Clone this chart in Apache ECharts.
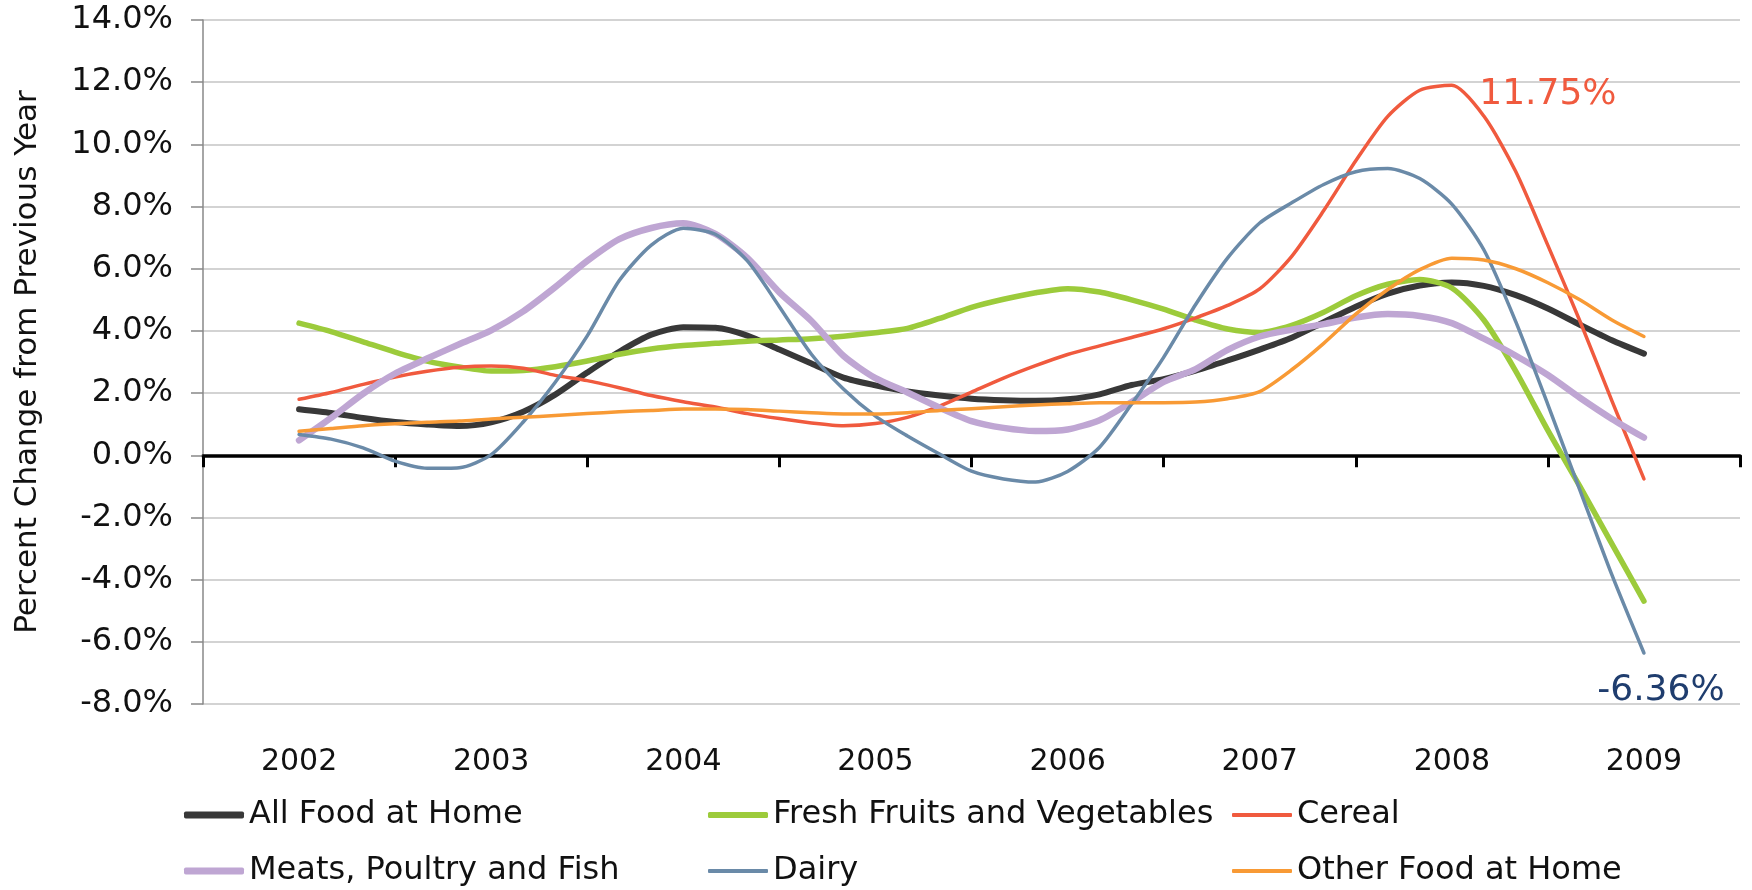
<!DOCTYPE html>
<html>
<head>
<meta charset="utf-8">
<title>Food at home price change</title>
<script src="https://cdn.jsdelivr.net/npm/echarts@6/dist/echarts.min.js"></script>
<style>
  html, body { margin: 0; padding: 0; background: #ffffff; }
  #chart { width: 1752px; height: 890px; }
</style>
</head>
<body>
<div id="chart"></div>
<script>
// x = months counted from July 2001 (6 = Jan 2002 ... 90 = Jan 2009)
var months = [6, 8, 10, 12, 14, 16, 18, 20, 22, 24, 26, 28, 30, 32, 34, 36, 38, 40, 42, 44, 46, 48,
              50, 52, 54, 56, 58, 60, 62, 64, 66, 68, 70, 72, 74, 76, 78, 80, 82, 84, 86, 88, 90];
var years = ['2002', '2003', '2004', '2005', '2006', '2007', '2008', '2009'];

var allFood = [1.48, 1.36, 1.20, 1.07, 0.99, 0.94, 1.06, 1.40, 1.95, 2.66, 3.33, 3.88, 4.12, 4.10, 3.85,
               3.40, 2.95, 2.50, 2.25, 2.05, 1.92, 1.82, 1.77, 1.75, 1.80, 1.96, 2.26, 2.45, 2.72, 3.05,
               3.40, 3.78, 4.28, 4.78, 5.20, 5.46, 5.56, 5.45, 5.15, 4.72, 4.20, 3.70, 3.27];
var freshFV = [4.25, 3.98, 3.65, 3.32, 3.03, 2.84, 2.71, 2.73, 2.85, 3.03, 3.25, 3.42, 3.53, 3.60, 3.67,
               3.71, 3.75, 3.83, 3.94, 4.08, 4.40, 4.76, 5.02, 5.23, 5.36, 5.25, 5.00, 4.70, 4.35, 4.06,
               3.95, 4.18, 4.60, 5.13, 5.50, 5.65, 5.38, 4.35, 2.70, 0.80, -1.00, -2.85, -4.69];
var cereal = [1.80, 2.02, 2.28, 2.52, 2.70, 2.83, 2.87, 2.80, 2.57, 2.40, 2.17, 1.92, 1.72, 1.55, 1.34,
              1.18, 1.04, 0.95, 1.02, 1.22, 1.58, 2.03, 2.48, 2.88, 3.24, 3.52, 3.79, 4.07, 4.42, 4.82,
              5.35, 6.40, 7.87, 9.47, 10.90, 11.74, 11.90, 10.91, 9.12, 6.75, 4.32, 1.75, -0.76];
var meats = [0.48, 1.20, 1.98, 2.63, 3.11, 3.57, 4.02, 4.63, 5.41, 6.25, 6.95, 7.31, 7.46, 7.12, 6.35,
             5.24, 4.32, 3.20, 2.48, 2.02, 1.53, 1.10, 0.88, 0.78, 0.83, 1.13, 1.71, 2.36, 2.77, 3.39,
             3.82, 4.04, 4.22, 4.43, 4.54, 4.48, 4.25, 3.75, 3.20, 2.58, 1.85, 1.17, 0.57];
var dairy = [0.67, 0.52, 0.24, -0.19, -0.42, -0.40, 0.02, 1.07, 2.35, 3.84, 5.62, 6.76, 7.30, 7.11, 6.25,
             4.78, 3.25, 2.13, 1.26, 0.62, 0.04, -0.51, -0.76, -0.86, -0.52, 0.26, 1.65, 3.15, 4.85, 6.35,
             7.47, 8.12, 8.71, 9.12, 9.22, 8.90, 8.08, 6.61, 4.29, 1.63, -1.12, -3.85, -6.36];
var otherFood = [0.77, 0.86, 0.95, 1.01, 1.06, 1.10, 1.17, 1.22, 1.28, 1.34, 1.40, 1.44, 1.49, 1.49, 1.47,
                 1.42, 1.37, 1.33, 1.33, 1.37, 1.44, 1.50, 1.56, 1.62, 1.66, 1.69, 1.69, 1.69, 1.71, 1.82,
                 2.05, 2.75, 3.60, 4.54, 5.33, 5.97, 6.34, 6.28, 6.00, 5.55, 5.00, 4.35, 3.82];

var peakLabel = '11.75%';
var endLabel = '-6.36%';

var font = 'DejaVu Sans';

function pairs(values) {
    var out = [];
    for (var i = 0; i < months.length; i++) {
        out.push([months[i], values[i]]);
    }
    return out;
}

function lineSeries(name, values, color, width) {
    return {
        name: name,
        type: 'line',
        data: pairs(values),
        symbol: 'none',
        smooth: 0.25,
        lineStyle: { color: color, width: width, cap: 'round', join: 'round' },
        itemStyle: { color: color },
        emphasis: { disabled: true },
        z: 3
    };
}

var sAll = lineSeries('All Food at Home', allFood, '#383838', 6);
var sFresh = lineSeries('Fresh Fruits and Vegetables', freshFV, '#9ccb3b', 5.5);
var sCereal = lineSeries('Cereal', cereal, '#f05a3e', 3.5);
var sMeats = lineSeries('Meats, Poultry and Fish', meats, '#bfa6d3', 6.5);
var sDairy = lineSeries('Dairy', dairy, '#6a8aa8', 3.5);
var sOther = lineSeries('Other Food at Home', otherFood, '#f89a35', 3.5);

// text beside the cereal peak
var peakIdx = 0;
for (var i = 1; i < cereal.length; i++) {
    if (cereal[i] > cereal[peakIdx]) peakIdx = i;
}
function notePoint(x, y, text, color, position, offset) {
    return {
        symbol: 'circle', symbolSize: 1, silent: true,
        data: [{
            coord: [x, y],
            itemStyle: { color: 'rgba(0,0,0,0)' },
            label: {
                show: true, position: position, distance: 0, offset: offset,
                formatter: text, color: color, fontSize: 36, fontFamily: font
            }
        }]
    };
}
sCereal.markPoint = notePoint(months[peakIdx], cereal[peakIdx], peakLabel, '#f05a3e', 'right', [27, 9]);
var lastIdx = dairy.length - 1;
sDairy.markPoint = notePoint(months[lastIdx], dairy[lastIdx], endLabel, '#1f3d6e', 'bottom', [17, 19]);

// one legend per entry so each icon can have the thickness of its line
function legendItem(left, centerY, name, thick) {
    return {
        orient: 'horizontal',
        left: left,
        top: centerY - 17,
        padding: 0,
        icon: 'roundRect',
        itemWidth: 60,
        itemHeight: thick,
        selectedMode: false,
        data: [name],
        textStyle: { fontSize: 32, lineHeight: 34, color: '#111', fontFamily: font }
    };
}

var chart = echarts.init(document.getElementById('chart'));
chart.setOption({
    backgroundColor: '#ffffff',
    animation: false,
    grid: { left: 203, right: 12, top: 20, bottom: 186, containLabel: false, outerBoundsMode: 'none' },
    legend: [
        legendItem(184, 815, 'All Food at Home', 7),
        legendItem(708, 815, 'Fresh Fruits and Vegetables', 6),
        legendItem(1232, 815, 'Cereal', 4),
        legendItem(184, 871, 'Meats, Poultry and Fish', 7),
        legendItem(708, 871, 'Dairy', 4),
        legendItem(1232, 871, 'Other Food at Home', 4)
    ],
    xAxis: [{
        // year labels at the middle of each year
        type: 'value', min: 0, max: 96, interval: 6, position: 'bottom',
        axisLine: { show: false, onZero: false },
        axisTick: { show: false },
        splitLine: { show: false },
        axisLabel: {
            margin: 43, fontSize: 30, color: '#111', fontFamily: font,
            formatter: function (v) {
                return v % 12 === 6 ? years[(v - 6) / 12] : '';
            }
        }
    }, {
        // zero line with year boundary ticks
        type: 'value', min: 0, max: 96, interval: 12, position: 'bottom',
        axisLine: { show: true, onZero: true, lineStyle: { color: '#000', width: 3.5 } },
        axisTick: { show: true, length: 12, lineStyle: { color: '#000', width: 3 } },
        axisLabel: { show: false },
        splitLine: { show: false }
    }],
    yAxis: {
        type: 'value', min: -8, max: 14, interval: 2,
        name: 'Percent Change from Previous Year',
        nameLocation: 'middle', nameGap: 160,
        nameTextStyle: { fontSize: 31, color: '#111', fontFamily: font },
        axisLine: { show: true, onZero: false, lineStyle: { color: '#888', width: 1.5 } },
        axisTick: { show: true, length: 12, lineStyle: { color: '#888', width: 1.5 } },
        splitLine: { lineStyle: { color: '#c4c4c4', width: 1.5 } },
        axisLabel: {
            margin: 30, fontSize: 32, color: '#111', fontFamily: font,
            formatter: function (v) { return v.toFixed(1) + '%'; }
        }
    },
    series: [sAll, sFresh, sCereal, sMeats, sDairy, sOther]
});
</script>
</body>
</html>
